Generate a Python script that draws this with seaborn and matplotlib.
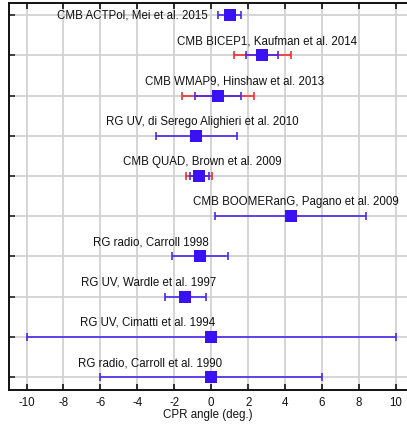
import numpy as np
import pandas as pd
import matplotlib
matplotlib.use("Agg")
import matplotlib.pyplot as plt
import seaborn as sns

# measurements (CPR angle, deg.)
labels = ["CMB ACTPol, Mei et al. 2015",
          "CMB BICEP1, Kaufman et al. 2014",
          "CMB WMAP9, Hinshaw et al. 2013",
          "RG UV, di Serego Alighieri et al. 2010",
          "CMB QUAD, Brown et al. 2009",
          "CMB BOOMERanG, Pagano et al. 2009",
          "RG radio, Carroll 1998",
          "RG UV, Wardle et al. 1997",
          "RG UV, Cimatti et al. 1994",
          "RG radio, Carroll et al. 1990"]
center = [1.0, 2.77, 0.36, -0.8, -0.64, 4.3, -0.6, -1.4, 0.0, 0.0]
err_stat = [0.63, 0.86, 1.24, 2.2, 0.5, 4.1, 1.5, 1.1, 10.0, 6.0]
err_sys = [0.0, 1.3, 1.5, 0.0, 0.5, 0.0, 0.0, 0.0, 0.0, 0.0]

# where each caption sits (centre x, offset above the row)
label_x = [-4.28, 3.0, 1.24, -0.49, -0.5, 4.6, -3.28, -3.38, -3.44, -3.29]
label_dy = [0.0, 0.35, 0.35, 0.35, 0.35, 0.35, 0.35, 0.35, 0.35, 0.35]

df = pd.DataFrame({"label": labels, "center": center,
                   "stat": err_stat, "sys": err_sys})
df["row"] = np.arange(1, len(df) + 1)
df["total"] = np.sqrt(df["stat"] ** 2 + df["sys"] ** 2)

sns.set_style("whitegrid")
plt.rcParams["font.family"] = ["Liberation Sans", "DejaVu Sans"]
plt.rcParams["axes.unicode_minus"] = False

blue = "#3a10f5"
red = "#f03030"

fig = plt.figure(figsize=(4.07, 4.24), dpi=100)
ax = fig.add_axes([0.022, 0.080, 0.978, 0.913])

# total (stat+sys) error in red, only where a systematic is quoted
sy = df[df["sys"] > 0]
ax.errorbar(sy["center"], sy["row"], xerr=sy["total"], fmt="none",
            ecolor=red, elinewidth=1.2, capsize=3, capthick=1.2, zorder=3)
ax.errorbar(df["center"], df["row"], xerr=df["stat"], fmt="none",
            ecolor="#4a28f0", elinewidth=1.2, capsize=3, capthick=1.2, zorder=4)
ax.plot(df["center"], df["row"] - 0.06, "o", color=red, ms=4, zorder=4.5)
sns.scatterplot(data=df, x="center", y="row", marker="s", s=70,
                color=blue, edgecolor=blue, linewidth=0, zorder=5, ax=ax)

for i, row in df.iterrows():
    ax.text(label_x[i], row["row"] - label_dy[i], row["label"],
            ha="center", va="center", fontsize=8.3, color="#111111", zorder=6)

ax.set_xlim(-10.95, 10.6)
ax.set_ylim(10.32, 0.7)
ax.set_xticks(np.arange(-10, 11, 2))
ax.set_yticks(df["row"])
ax.set_yticklabels([])
ax.grid(True, color="#d2d2d2", linewidth=1.3)
ax.set_axisbelow(True)

ax.tick_params(axis="x", direction="in", top=True, bottom=True, length=4,
               width=1.2, labelsize=8.3, pad=5, colors="#111111")
ax.tick_params(axis="y", direction="in", left=True, right=False, length=4,
               width=1.2)
for side in ["left", "bottom", "top"]:
    ax.spines[side].set_visible(True)
    ax.spines[side].set_color("#111111")
    ax.spines[side].set_linewidth(1.4)
ax.spines["right"].set_visible(False)

ax.set_xlabel("CPR angle (deg.)", fontsize=8.3, labelpad=0, color="#111111")
ax.set_ylabel("")

fig.savefig("out.png", dpi=100)
